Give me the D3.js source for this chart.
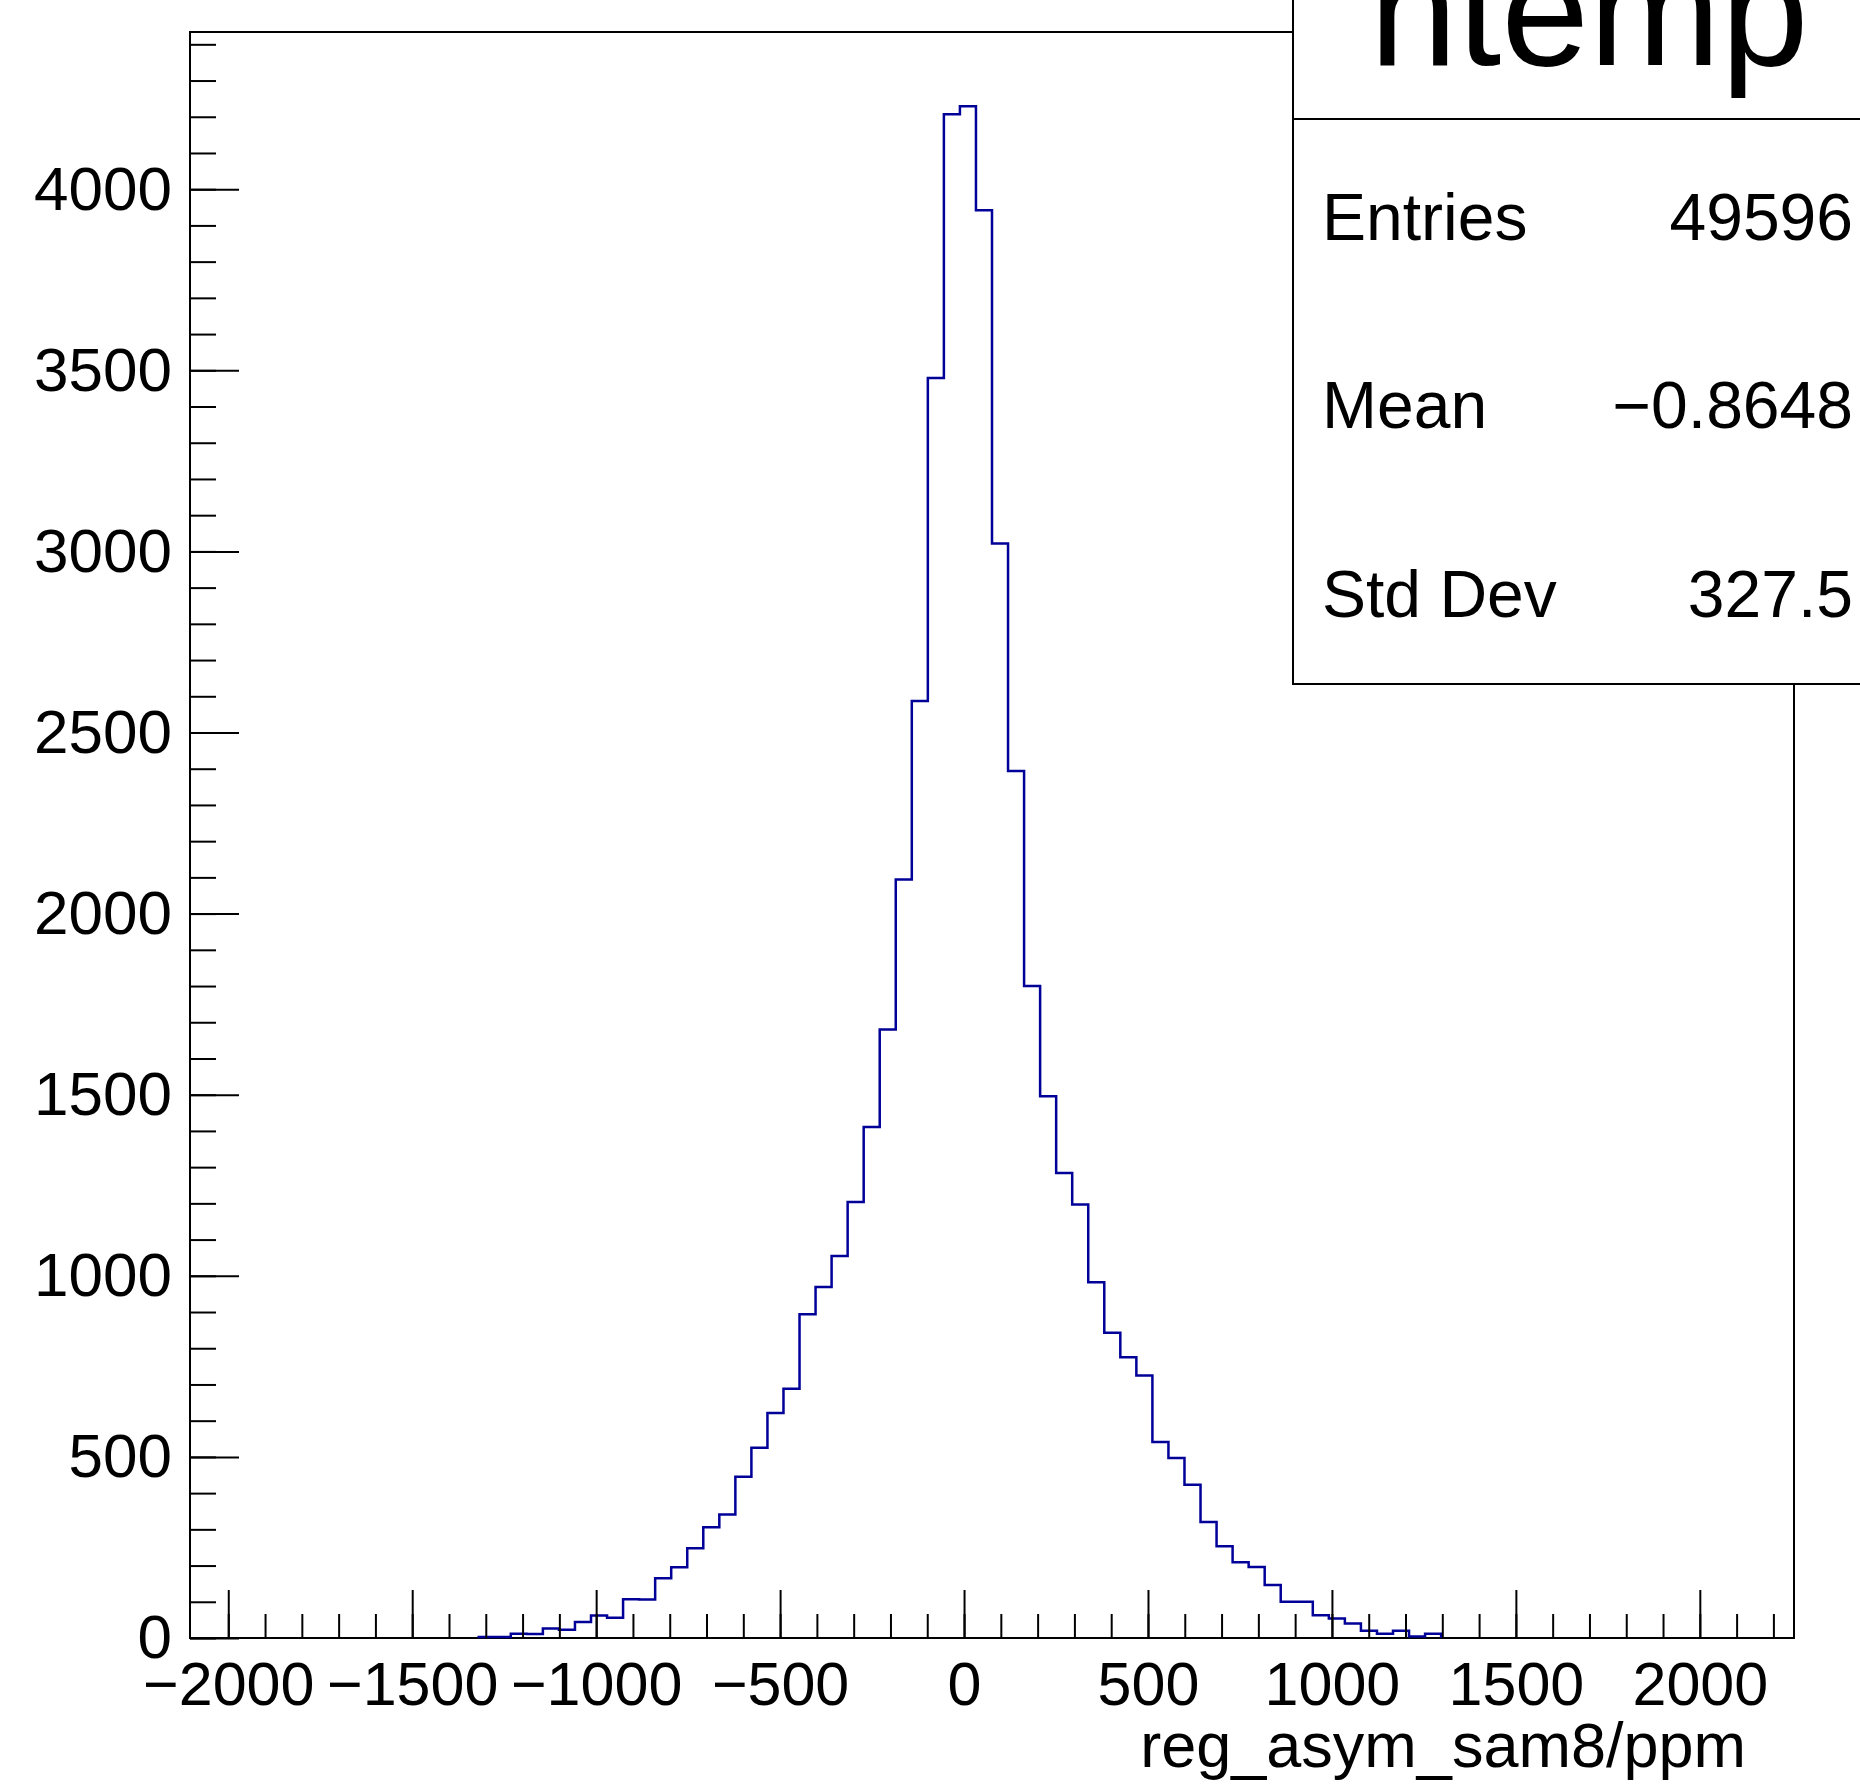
<!DOCTYPE html>
<html>
<head>
<meta charset="utf-8">
<script src="https://cdn.jsdelivr.net/npm/d3@7"></script>
<style>
  body { margin: 0; background: #fff; }
  svg { display: block; font-family: "Liberation Sans", Arial, Helvetica, sans-serif; }
</style>
</head>
<body>
<div id="chart"></div>
<script>
(function () {

  // histogram range and contents (100 bins)
  const xMin = -2104, xMax = 2256;
  const binCounts = [
    0, 0, 0, 0, 0, 0, 0, 0, 0, 0,
    0, 0, 0, 0, 0, 0, 0, 0, 3, 3,
    12, 11, 26, 23, 44, 62, 56, 107, 106, 165,
    195, 248, 306, 341, 445, 525, 621, 688, 894, 969,
    1055, 1204, 1411, 1680, 2094, 2587, 3479, 4207, 4229, 3942,
    3022, 2394, 1800, 1496, 1284, 1197, 982, 843, 775, 725,
    541, 497, 423, 320, 253, 209, 196, 146, 100, 100,
    63, 54, 40, 20, 12, 20, 4, 12, 0, 0,
    0, 0, 0, 0, 0, 0, 0, 0, 0, 0,
    0, 0, 0, 0, 0, 0, 0, 0, 0, 0
  ];
  const yMax = 4434;

  const xMajorTicks = [-2000, -1500, -1000, -500, 0, 500, 1000, 1500, 2000];
  const xMinorTicks = d3.range(-2000, 2201, 100);
  const yMajorTicks = [0, 500, 1000, 1500, 2000, 2500, 3000, 3500, 4000];
  const yMinorTicks = d3.range(0, 4401, 100);

  const histTitle = "htemp";
  const xTitle = "reg_asym_sam8/ppm";
  const statsLabels = ["Entries", "Mean", "Std Dev"];
  const statsValues = ["49596", "\u22120.8648", "327.5"];

  const W = 1860, H = 1787;
  const frame = {left: 190, right: 1794, top: 32, bottom: 1638};
  const fmt = d => (d < 0 ? "\u2212" + Math.abs(d) : String(d));

  let svg = d3.select("#chart")
    .append("svg")
      .attr("width", W)
      .attr("height", H);

  svg.append("rect").attr("width", W).attr("height", H).attr("fill", "#fff");

  let x = d3.scaleLinear().domain([xMin, xMax]).range([frame.left, frame.right]);
  let y = d3.scaleLinear().domain([0, yMax]).range([frame.bottom, frame.top]);

  // frame
  svg.append("rect")
      .attr("x", frame.left).attr("y", frame.top)
      .attr("width", frame.right - frame.left)
      .attr("height", frame.bottom - frame.top)
      .attr("fill", "none").attr("stroke", "#000").attr("stroke-width", 2);

  // histogram outline, from first to last filled bin
  const binW = (xMax - xMin) / binCounts.length;
  const first = binCounts.findIndex(c => c > 0);
  let last = binCounts.length - 1;
  while (last > 0 && binCounts[last] === 0) last--;

  let pts = [[xMin + first * binW, 0]];
  for (let i = first; i <= last; i++) {
    pts.push([xMin + i * binW, binCounts[i]]);
    pts.push([xMin + (i + 1) * binW, binCounts[i]]);
  }
  pts.push([xMin + (last + 1) * binW, 0]);

  svg.append("path")
      .datum(pts)
      .attr("fill", "none")
      .attr("stroke", "#000099")
      .attr("stroke-width", 2.5)
      .attr("d", d3.line().x(d => x(d[0])).y(d => y(d[1])));

  // X axis: minor then major ticks, pointing inward
  let gxMinor = svg.append("g")
      .attr("transform", "translate(0," + frame.bottom + ")")
      .call(d3.axisBottom(x).tickValues(xMinorTicks).tickSize(-24).tickFormat(""));
  let gx = svg.append("g")
      .attr("transform", "translate(0," + frame.bottom + ")")
      .call(d3.axisBottom(x).tickValues(xMajorTicks).tickSize(-48).tickPadding(24).tickFormat(fmt));

  // Y axis
  let gyMinor = svg.append("g")
      .attr("transform", "translate(" + frame.left + ",0)")
      .call(d3.axisLeft(y).tickValues(yMinorTicks).tickSize(-26).tickFormat(""));
  let gy = svg.append("g")
      .attr("transform", "translate(" + frame.left + ",0)")
      .call(d3.axisLeft(y).tickValues(yMajorTicks).tickSize(-49).tickPadding(18).tickFormat(fmt));

  [gxMinor, gx, gyMinor, gy].forEach(g => {
    g.select(".domain").remove();
    g.selectAll(".tick line").attr("stroke", "#000").attr("stroke-width", 2);
    g.selectAll("text")
      .attr("fill", "#000")
      .style("font-size", "62px")
      .style("font-family", "\"Liberation Sans\", Arial, sans-serif");
  });
  gx.selectAll("text").style("font-size", "61px");

  // x axis title
  svg.append("text")
      .attr("x", 1746).attr("y", 1767)
      .attr("text-anchor", "end")
      .style("font-size", "63px")
      .text(xTitle);

  // stats box (runs off the canvas at the right)
  svg.append("rect")
      .attr("x", 1293).attr("y", 119)
      .attr("width", 700).attr("height", 684 - 119)
      .attr("fill", "#fff").attr("stroke", "#000").attr("stroke-width", 2);

  // title box
  svg.append("rect")
      .attr("x", 1293).attr("y", -20)
      .attr("width", 700).attr("height", 139)
      .attr("fill", "#fff").attr("stroke", "#000").attr("stroke-width", 2);

  svg.append("text")
      .attr("x", 1589).attr("y", 65)
      .attr("text-anchor", "middle")
      .style("font-size", "158px")
      .text(histTitle);

  const rowY = [240, 428, 617];
  statsLabels.forEach((lab, i) => {
    svg.append("text")
        .attr("x", 1322).attr("y", rowY[i])
        .style("font-size", "66px")
        .text(lab);
    svg.append("text")
        .attr("x", 1853).attr("y", rowY[i])
        .attr("text-anchor", "end")
        .style("font-size", "66px")
        .text(statsValues[i]);
  });

})();
</script>
</body>
</html>
